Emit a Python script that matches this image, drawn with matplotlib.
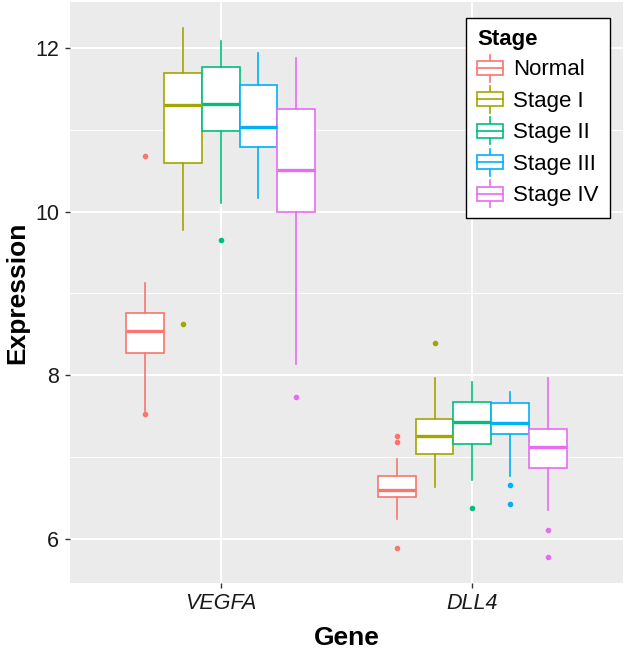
import matplotlib
matplotlib.use("Agg")
import matplotlib.pyplot as plt
from matplotlib.legend_handler import HandlerBase
from matplotlib.patches import Rectangle
from matplotlib.lines import Line2D

genes = ["VEGFA", "DLL4"]
stages = ["Normal", "Stage I", "Stage II", "Stage III", "Stage IV"]
colors = ["#F8766D", "#A3A500", "#00BF7D", "#00B0F6", "#E76BF3"]

# box summaries, one value per stage
vegfa_low = [7.56, 9.77, 10.11, 10.16, 8.14]
vegfa_q1 = [8.27, 10.59, 10.98, 10.79, 10.00]
vegfa_med = [8.54, 11.30, 11.31, 11.04, 10.51]
vegfa_q3 = [8.76, 11.70, 11.77, 11.55, 11.26]
vegfa_high = [9.13, 12.24, 12.09, 11.94, 11.88]
vegfa_out = [[10.68, 7.52], [8.63], [9.65], [], [7.73]]

dll4_low = [6.24, 6.63, 6.72, 6.76, 6.35]
dll4_q1 = [6.51, 7.04, 7.16, 7.28, 6.86]
dll4_med = [6.60, 7.26, 7.43, 7.42, 7.12]
dll4_q3 = [6.77, 7.46, 7.67, 7.66, 7.34]
dll4_high = [6.97, 7.97, 7.92, 7.79, 7.97]
dll4_out = [[7.25, 7.18, 5.88], [8.39], [6.37], [6.66, 6.42], [6.10, 5.78]]

plt.rcParams["font.family"] = ["Liberation Sans", "DejaVu Sans"]

W, H = 628, 649
fig = plt.figure(figsize=(W / 100, H / 100), dpi=100)
left, right, top, bottom = 69.7, 623.3, 2, 583
ax = fig.add_axes([left / W, 1 - bottom / H, (right - left) / W, (bottom - top) / H])
ax.set_facecolor("#EBEBEB")
for s in ax.spines.values():
    s.set_visible(False)

table = [
    (vegfa_low, vegfa_q1, vegfa_med, vegfa_q3, vegfa_high, vegfa_out),
    (dll4_low, dll4_q1, dll4_med, dll4_q3, dll4_high, dll4_out),
]

box_w = 0.15
all_vals = []
for gi, (lo, q1, med, q3, hi, out) in enumerate(table):
    for si in range(len(stages)):
        st = dict(whislo=lo[si], q1=q1[si], med=med[si], q3=q3[si],
                  whishi=hi[si], fliers=out[si])
        all_vals += [lo[si], hi[si]] + list(out[si])
        pos = gi + 1 + (si - 2) * box_w
        c = colors[si]
        ax.bxp([st], positions=[pos], widths=box_w, showcaps=False,
               patch_artist=True, zorder=3,
               boxprops=dict(facecolor="white", edgecolor=c, linewidth=1.2),
               whiskerprops=dict(color=c, linewidth=1.2),
               medianprops=dict(color=c, linewidth=2.4),
               flierprops=dict(marker="o", markersize=3, markerfacecolor=c,
                               markeredgecolor=c, linestyle="none"))

ymin, ymax = min(all_vals), max(all_vals)
pad = (ymax - ymin) * 0.05
ax.set_ylim(ymin - pad, ymax + pad)
ax.set_xlim(0.4, 2.6)
ax.set_xticks([1, 2])
ax.set_xticklabels(genes, fontstyle="italic")
ax.set_yticks([6, 8, 10, 12])
ax.set_yticks([7, 9, 11], minor=True)
ax.grid(True, which="major", color="white", linewidth=1.4, zorder=0)
ax.grid(True, which="minor", axis="y", color="white", linewidth=0.7, zorder=0)
ax.set_axisbelow(True)
ax.tick_params(which="major", length=3.3, width=1, color="#333333",
               labelsize=15.5, labelcolor="#1a1a1a")
ax.tick_params(axis="x", pad=3.6)
ax.tick_params(axis="y", pad=4.3)
ax.tick_params(which="minor", length=0)

fig.text((left + right) / 2 / W, 1 - 645 / H, "Gene", ha="center", va="baseline",
         fontsize=19, fontweight="bold")
fig.text(17 / W, 1 - (top + bottom) / 2 / H, "Expression", ha="center", va="center",
         rotation=90, fontsize=19, fontweight="bold")


class BoxKey(HandlerBase):
    def create_artists(self, legend, orig, xd, yd, w, h, fontsize, trans):
        c = orig.get_color()
        x0, y0 = -xd, -yd
        cx = x0 + w / 2
        wl = Line2D([cx, cx], [y0, y0 + h], color=c, lw=1.2, transform=trans)
        box = Rectangle((x0, y0 + h * 0.24), w, h * 0.52, facecolor="white",
                        edgecolor=c, lw=1.2, transform=trans)
        md = Line2D([x0, x0 + w], [y0 + h / 2] * 2, color=c, lw=1.2,
                    transform=trans)
        return [wl, box, md]


handles = [Line2D([], [], color=c) for c in colors]
leg = ax.legend(handles, stages, handler_map={Line2D: BoxKey()}, title="Stage",
                loc="upper left", bbox_to_anchor=(466 / W, 1 - 18 / H),
                bbox_transform=fig.transFigure, fontsize=16,
                title_fontproperties=dict(size=16, weight="bold"),
                handlelength=1.17, handleheight=1.49, handletextpad=0.45,
                labelspacing=0.2, borderpad=0.5, fancybox=False,
                framealpha=1, edgecolor="black", borderaxespad=0)
leg._legend_box.align = "left"
leg.get_frame().set_linewidth(1)

fig.savefig("out.png", dpi=100)
